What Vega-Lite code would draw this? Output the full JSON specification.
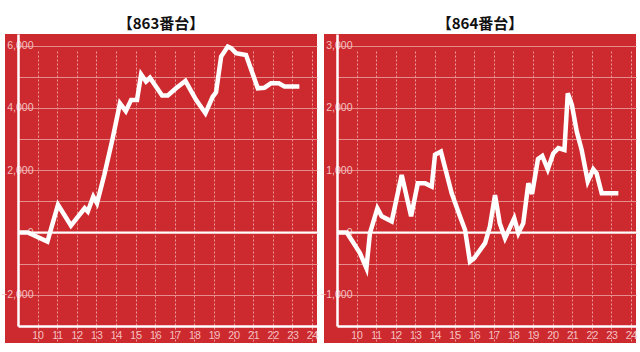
{
  "$schema": "https://vega.github.io/schema/vega-lite/v6.json",
  "background": "white",
  "bounds": "flush",
  "padding": {"left": 0, "top": 17, "right": 0, "bottom": 0},
  "spacing": 7,
  "config": {
    "view": {"fill": "#CD2A30", "stroke": null},
    "title": {"font": "Noto Sans CJK JP", "fontSize": 15, "fontWeight": "bold", "color": "#111111", "offset": 2},
    "axis": {
      "labelFont": "Liberation Sans",
      "labelFontSize": 10.5,
      "labelColor": "#F3C2C2",
      "domainColor": "#FFFFFF",
      "domainWidth": 2.5,
      "ticks": false,
      "tickSize": 0,
      "title": null,
      "labelFlush": false,
      "labelOverlap": false,
      "tickCount": 30
    }
  },
  "datasets": {
    "m863": [
      {"hour": 9.0, "value": 0}, {"hour": 9.5, "value": 0}, {"hour": 10.5, "value": -290},
      {"hour": 11.04, "value": 890}, {"hour": 11.7, "value": 225}, {"hour": 12.4, "value": 780},
      {"hour": 12.56, "value": 675}, {"hour": 12.84, "value": 1155}, {"hour": 13.03, "value": 940},
      {"hour": 13.4, "value": 1850}, {"hour": 13.83, "value": 3030}, {"hour": 14.2, "value": 4150},
      {"hour": 14.5, "value": 3900}, {"hour": 14.77, "value": 4260}, {"hour": 15.07, "value": 4260},
      {"hour": 15.28, "value": 5080}, {"hour": 15.53, "value": 4850}, {"hour": 15.73, "value": 4970},
      {"hour": 16.35, "value": 4400}, {"hour": 16.64, "value": 4400}, {"hour": 17.06, "value": 4630},
      {"hour": 17.54, "value": 4870}, {"hour": 18.08, "value": 4260}, {"hour": 18.56, "value": 3830},
      {"hour": 18.93, "value": 4360}, {"hour": 19.1, "value": 4500}, {"hour": 19.36, "value": 5650},
      {"hour": 19.7, "value": 5970}, {"hour": 19.87, "value": 5920}, {"hour": 20.12, "value": 5760},
      {"hour": 20.63, "value": 5700}, {"hour": 21.23, "value": 4630}, {"hour": 21.57, "value": 4650},
      {"hour": 21.9, "value": 4790}, {"hour": 22.3, "value": 4790}, {"hour": 22.59, "value": 4690},
      {"hour": 23.35, "value": 4690}
    ],
    "m864": [
      {"hour": 9.0, "value": 0}, {"hour": 9.5, "value": 0}, {"hour": 10.17, "value": -330},
      {"hour": 10.5, "value": -570}, {"hour": 10.68, "value": -10}, {"hour": 11.06, "value": 390},
      {"hour": 11.28, "value": 260}, {"hour": 11.79, "value": 180}, {"hour": 12.3, "value": 925},
      {"hour": 12.78, "value": 260}, {"hour": 13.12, "value": 790}, {"hour": 13.5, "value": 790},
      {"hour": 13.83, "value": 740}, {"hour": 14.0, "value": 1250}, {"hour": 14.3, "value": 1300},
      {"hour": 14.85, "value": 630}, {"hour": 15.27, "value": 260}, {"hour": 15.53, "value": 45},
      {"hour": 15.78, "value": -465}, {"hour": 16.0, "value": -410}, {"hour": 16.55, "value": -170},
      {"hour": 16.8, "value": 100}, {"hour": 17.06, "value": 600}, {"hour": 17.3, "value": 150},
      {"hour": 17.57, "value": -90}, {"hour": 18.04, "value": 230}, {"hour": 18.25, "value": -10},
      {"hour": 18.5, "value": 150}, {"hour": 18.76, "value": 790}, {"hour": 18.95, "value": 620},
      {"hour": 19.25, "value": 1180}, {"hour": 19.47, "value": 1230}, {"hour": 19.75, "value": 1015},
      {"hour": 20.03, "value": 1270}, {"hour": 20.29, "value": 1355}, {"hour": 20.6, "value": 1325},
      {"hour": 20.77, "value": 2235}, {"hour": 20.98, "value": 2050}, {"hour": 21.23, "value": 1620},
      {"hour": 21.48, "value": 1325}, {"hour": 21.79, "value": 820}, {"hour": 22.07, "value": 1015},
      {"hour": 22.24, "value": 950}, {"hour": 22.5, "value": 630}, {"hour": 23.35, "value": 630}
    ]
  },
  "hconcat": [
    {
      "title": "【863番台】",
      "width": 312,
      "height": 309,
      "layer": [
        {
          "data": {"values": [{"v": 0}]},
          "mark": {"type": "rule", "color": "#FFFFFF", "strokeWidth": 2},
          "encoding": {
            "x": {"datum": 9, "type": "quantitative"},
            "x2": {"datum": 24.25},
            "y": {"field": "v", "type": "quantitative"}
          }
        },
        {
          "data": {"name": "m863"},
          "mark": {"type": "line", "color": "#FFFFFF", "strokeWidth": 4.5},
          "encoding": {
            "x": {
              "field": "hour", "type": "quantitative",
              "scale": {"domain": [9, 24.25], "range": [13, 312], "nice": false, "zero": false},
              "axis": {
                "values": [10, 11, 12, 13, 14, 15, 16, 17, 18, 19, 20, 21, 22, 23, 24],
                "tickCount": 30, "format": "d",
                "offset": -17, "labelPadding": 4, "labelOverlap": false,
                "grid": true, "gridColor": "#EC9C9C", "gridDash": [2, 2], "gridWidth": 1
              }
            },
            "y": {
              "field": "value", "type": "quantitative",
              "scale": {"domain": [-3000, 6375], "range": [292, 0], "nice": false, "zero": false},
              "axis": {
                "values": [-2000, -1000, 0, 1000, 2000, 3000, 4000, 5000, 6000],
                "tickCount": 30,
                "labelExpr": "datum.value % 2000 === 0 ? format(datum.value, ',') : ''",
                "offset": -13, "labelPadding": -15, "labelAlign": "right", "labelOverlap": false,
                "grid": true, "gridColor": "#E68C8C", "gridWidth": 1
              }
            }
          }
        }
      ]
    },
    {
      "title": "【864番台】",
      "width": 312,
      "height": 309,
      "layer": [
        {
          "data": {"values": [{"v": 0}]},
          "mark": {"type": "rule", "color": "#FFFFFF", "strokeWidth": 2},
          "encoding": {
            "x": {"datum": 9, "type": "quantitative"},
            "x2": {"datum": 24.25},
            "y": {"field": "v", "type": "quantitative"}
          }
        },
        {
          "data": {"name": "m864"},
          "mark": {"type": "line", "color": "#FFFFFF", "strokeWidth": 4.5},
          "encoding": {
            "x": {
              "field": "hour", "type": "quantitative",
              "scale": {"domain": [9, 24.25], "range": [13, 312], "nice": false, "zero": false},
              "axis": {
                "values": [10, 11, 12, 13, 14, 15, 16, 17, 18, 19, 20, 21, 22, 23, 24],
                "tickCount": 30, "format": "d",
                "offset": -17, "labelPadding": 4, "labelOverlap": false,
                "grid": true, "gridColor": "#EC9C9C", "gridDash": [2, 2], "gridWidth": 1
              }
            },
            "y": {
              "field": "value", "type": "quantitative",
              "scale": {"domain": [-1500, 3187.5], "range": [292, 0], "nice": false, "zero": false},
              "axis": {
                "values": [-1000, -500, 0, 500, 1000, 1500, 2000, 2500, 3000],
                "tickCount": 30,
                "labelExpr": "datum.value % 1000 === 0 ? format(datum.value, ',') : ''",
                "offset": -13, "labelPadding": -15, "labelAlign": "right", "labelOverlap": false,
                "grid": true, "gridColor": "#E68C8C", "gridWidth": 1
              }
            }
          }
        }
      ]
    }
  ]
}
